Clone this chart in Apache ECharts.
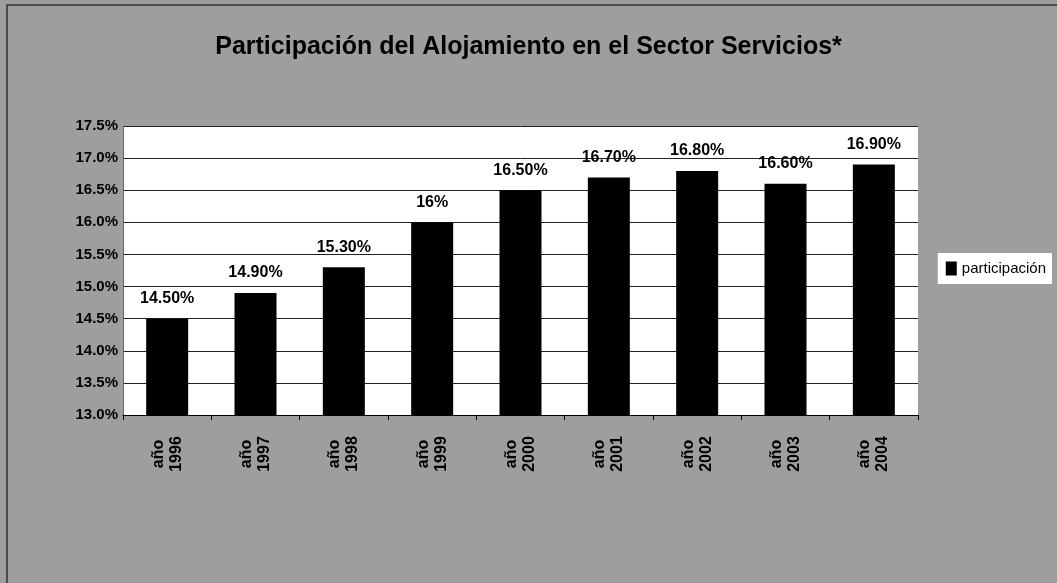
<!DOCTYPE html>
<html>
<head>
<meta charset="utf-8">
<script src="https://cdn.jsdelivr.net/npm/echarts@6/dist/echarts.min.js"></script>
<style>
  html, body { margin: 0; padding: 0; background: #9e9e9e; }
  #chart { width: 1057px; height: 583px; }
</style>
</head>
<body>
<div id="chart"></div>
<script>
const years = ['año\n1996', 'año\n1997', 'año\n1998', 'año\n1999', 'año\n2000', 'año\n2001', 'año\n2002', 'año\n2003', 'año\n2004']
const participacion = [14.5, 14.9, 15.3, 16, 16.5, 16.7, 16.8, 16.6, 16.9]
const barLabels = ['14.50%', '14.90%', '15.30%', '16%', '16.50%', '16.70%', '16.80%', '16.60%', '16.90%']

const narrow = '"Liberation Sans Narrow", "Liberation Sans", Arial, sans-serif'

const myChart = echarts.init(document.getElementById('chart'))
const option = {
    backgroundColor: '#9e9e9e',
    animation: false,
    title: {
        text: 'Participación del Alojamiento en el Sector Servicios*',
        left: 'center',
        top: 30,
        textStyle: {
            fontFamily: narrow,
            fontWeight: 'bold',
            fontSize: 25,
            color: '#000'
        }
    },
    legend: {
        right: 5,
        top: 253,
        orient: 'vertical',
        backgroundColor: '#fff',
        padding: [8, 6, 8, 8],
        itemWidth: 11,
        itemHeight: 14,
        itemGap: 4,
        icon: 'rect',
        textStyle: {fontFamily: narrow, fontSize: 15, color: '#000'},
        data: ['participación']
    },
    grid: {
        left: 123,
        top: 126,
        width: 795,
        height: 289,
        show: true,
        backgroundColor: '#fff',
        borderWidth: 0
    },
    xAxis: {
        type: 'category',
        data: years,
        axisLine: {show: true, lineStyle: {color: '#000', width: 1}},
        axisTick: {show: true, length: 5, lineStyle: {color: '#000'}},
        axisLabel: {
            rotate: 90,
            margin: 39,
            color: '#000',
            fontFamily: narrow,
            fontWeight: 'bold',
            fontSize: 16,
            lineHeight: 18,
            align: 'center',
            verticalAlign: 'middle'
        }
    },
    yAxis: {
        type: 'value',
        min: 13,
        max: 17.5,
        interval: 0.5,
        axisLine: {show: true, lineStyle: {color: '#666'}},
        axisTick: {show: false},
        axisLabel: {
            color: '#000',
            margin: 5,
            fontFamily: narrow,
            fontWeight: 'bold',
            fontSize: 15,
            formatter: v => v.toFixed(1) + '%'
        },
        splitLine: {show: true, lineStyle: {color: '#222', width: 1}}
    },
    series: [{
        name: 'participación',
        type: 'bar',
        data: participacion,
        barWidth: 42,
        itemStyle: {color: '#000'},
        label: {
            show: true,
            position: 'top',
            distance: 12,
            color: '#000',
            fontFamily: narrow,
            fontWeight: 'bold',
            fontSize: 16,
            formatter: p => barLabels[p.dataIndex]
        }
    }],
    graphic: [{
        type: 'rect',
        shape: {x: 7, y: 5, width: 1060, height: 600},
        style: {fill: 'none', stroke: '#333', lineWidth: 1.5},
        silent: true
    }]
}
myChart.setOption(option)
</script>
</body>
</html>
